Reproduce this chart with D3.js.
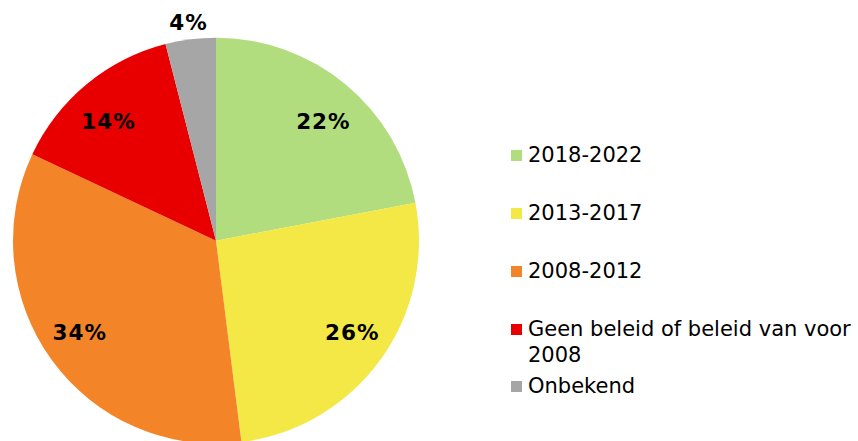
<!DOCTYPE html>
<html>
<head>
<meta charset="utf-8">
<script src="https://cdn.jsdelivr.net/npm/d3@7"></script>
<style>
  html, body { margin: 0; padding: 0; background: #fff; }
  svg { display: block; }
</style>
</head>
<body>
<svg id="chart" width="858" height="441"></svg>
<script>
const categories = ["2018-2022", "2013-2017", "2008-2012", "Geen beleid of beleid van voor 2008", "Onbekend"];
const legendLines = [["2018-2022"], ["2013-2017"], ["2008-2012"], ["Geen beleid of beleid van voor", "2008"], ["Onbekend"]];
const values = [22, 26, 34, 14, 4];
const labels = ["22%", "26%", "34%", "14%", "4%"];
const colors = ["#B1DD7F", "#F3E846", "#F48428", "#E80000", "#A6A6A6"];

const svg = d3.select("#chart");
const cx = 216, cy = 240.7, R = 203;

const data = categories.map((c, i) => ({ cat: c, value: values[i], label: labels[i], color: colors[i], lines: legendLines[i] }));

const pie = d3.pie().value(d => d.value).sort(null);
const arcs = pie(data);
const arc = d3.arc().innerRadius(0).outerRadius(R);

const g = svg.append("g").attr("transform", `translate(${cx},${cy})`);
g.selectAll("path").data(arcs).enter().append("path")
  .attr("d", arc)
  .attr("fill", d => d.data.color);

const labelArcIn = d3.arc().innerRadius(162).outerRadius(162);
const labelArcOut = d3.arc().innerRadius(220).outerRadius(220);
g.selectAll("text").data(arcs).enter().append("text")
  .attr("transform", d => {
    const small = (d.endAngle - d.startAngle) < 0.4;
    let p = (small ? labelArcOut : labelArcIn).centroid(d);
    if (!small) p = [p[0] * 1.04, p[1] * 0.96];
    return `translate(${p[0]},${p[1]})`;
  })
  .attr("text-anchor", "middle")
  .attr("dy", "0.36em")
  .style("font-family", "'DejaVu Sans', Verdana, sans-serif")
  .style("font-weight", "bold")
  .style("font-size", "21.5px")
  .style("letter-spacing", "1px")
  .attr("fill", "#000")
  .text(d => d.data.label);

// Legend
const legendTop = 162; // baseline of first row
const rowStep = 58;
const lineH = 26;
const lg = svg.append("g");
let y = legendTop;
data.forEach((d, i) => {
  const row = lg.append("g");
  row.append("rect")
    .attr("x", 511).attr("y", y - 12)
    .attr("width", 11).attr("height", 11)
    .attr("fill", d.color);
  const t = row.append("text")
    .attr("x", 528).attr("y", y)
    .style("font-family", "'DejaVu Sans', Verdana, sans-serif")
    .style("font-size", "21px")
    .attr("fill", "#000");
  d.lines.forEach((ln, j) => {
    t.append("tspan").attr("x", 528).attr("y", y + j * lineH).text(ln);
  });
  y += (i === 3) ? 57 : rowStep;
});
</script>
</body>
</html>
